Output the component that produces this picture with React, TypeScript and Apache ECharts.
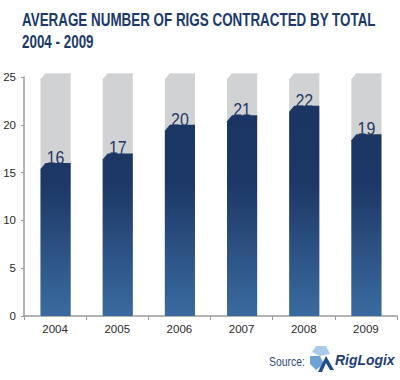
import React, { useEffect, useRef } from "react";
import * as echarts from "echarts";

const years = ["2004", "2005", "2006", "2007", "2008", "2009"];
const rigCounts = [16, 17, 20, 21, 22, 19];
const backgroundMax = [25.4, 25.4, 25.4, 25.4, 25.4, 25.4];
const yTicks = { min: 0, max: 25, interval: 5 };
const titleLines = ["AVERAGE NUMBER OF RIGS CONTRACTED BY TOTAL", "2004 - 2009"];
const sourceLabel = "Source:";
const sourceName = "RigLogix";

const SANS = "'Liberation Sans', Arial, Helvetica, sans-serif";

function measure(text: string, font: string): number {
  const c = document.createElement("canvas").getContext("2d");
  if (!c) return text.length * 10;
  c.font = font;
  return c.measureText(text).width;
}

const TITLE_FONT = `bold 19px ${SANS}`;
const LABEL_FONT = `19px ${SANS}`;
const LABEL_SCALE = 0.84;

function barShape(params: any, api: any, kind: "bg" | "fg") {
  const idx = api.value(0);
  const v = api.value(1);
  const base = api.coord([idx, 0]);
  const top = api.coord([idx, v]);
  const w = api.size([1, 0])[0] * 0.485;
  const cx = base[0] + 0.5;
  const l = cx - w / 2;
  const r = cx + w / 2;
  const cutH = 5;
  const cutV = 6;
  const pts = [
    [l, top[1] + cutV],
    [l + cutH, top[1]],
    [r, top[1]],
    [r, base[1]],
    [l, base[1]],
  ];
  const full = api.coord([idx, 25]);
  let fill: any = "#d1d2d4";
  if (kind === "fg") {
    fill = new echarts.graphic.LinearGradient(
      0, full[1], 0, base[1],
      [
        { offset: 0, color: "#1b3461" },
        { offset: 0.45, color: "#1d3866" },
        { offset: 1, color: "#3a6ba0" },
      ],
      true
    );
  }
  const children: any[] = [
    { type: "polygon", shape: { points: pts }, style: { fill } },
  ];
  if (kind === "fg") {
    children.push({
      type: "text",
      x: cx,
      y: top[1] + 4,
      scaleX: LABEL_SCALE,
      style: {
        text: String(v),
        textAlign: "center",
        textVerticalAlign: "bottom",
        fill: "#1c3764",
        font: LABEL_FONT,
      },
    });
  }
  return { type: "group", children };
}

export default function App() {
  const ref = useRef<HTMLDivElement>(null);
  useEffect(() => {
    if (!ref.current) return;
    const chart = echarts.init(ref.current, undefined, { renderer: "svg" });
    const titleScale = 354 / measure(titleLines[0], TITLE_FONT);
    chart.setOption({
      animation: false,
      backgroundColor: "#ffffff",
      grid: { left: 24, right: 3, top: 77, bottom: 64 },
      xAxis: {
        type: "category",
        data: years,
        boundaryGap: true,
        axisLine: { lineStyle: { color: "#9a9a9a", width: 1.5 } },
        axisTick: { show: true, length: 4, lineStyle: { color: "#9a9a9a" } },
        axisLabel: { color: "#2a2a2a", fontSize: 11.5, fontFamily: SANS, margin: 7 },
      },
      yAxis: {
        type: "value",
        min: yTicks.min,
        max: yTicks.max,
        interval: yTicks.interval,
        splitLine: { show: false },
        axisLine: { show: true, lineStyle: { color: "#9a9a9a", width: 1.5 } },
        axisTick: { show: true, length: 3, lineStyle: { color: "#9a9a9a" } },
        axisLabel: { color: "#2a2a2a", fontSize: 11.5, fontFamily: SANS, margin: 8 },
      },
      series: [
        {
          type: "custom",
          clip: false,
          z: 1,
          renderItem: (p: any, api: any) => barShape(p, api, "bg"),
          data: backgroundMax.map((v, i) => [i, v]),
        },
        {
          type: "custom",
          clip: false,
          z: 2,
          renderItem: (p: any, api: any) => barShape(p, api, "fg"),
          data: rigCounts.map((v, i) => [i, v]),
        },
      ],
      graphic: [
        {
          type: "text",
          x: 22,
          y: 10,
          scaleX: titleScale,
          style: {
            text: titleLines[0],
            fill: "#1b3a6b",
            font: TITLE_FONT,
            textVerticalAlign: "top",
          },
        },
        {
          type: "text",
          x: 22,
          y: 32,
          scaleX: titleScale,
          style: {
            text: titleLines[1],
            fill: "#1b3a6b",
            font: TITLE_FONT,
            textVerticalAlign: "top",
          },
        },
        {
          type: "text",
          x: 269,
          y: 355,
          scaleX: 0.8,
          style: { text: sourceLabel, fill: "#2b4a77", font: `13px ${SANS}`, textVerticalAlign: "top" },
        },
        {
          type: "group",
          x: 310,
          y: 346,
          children: [
            { type: "polygon", shape: { points: [[6, 0], [16, 0], [20, 8], [10, 10], [2, 6]] }, style: { fill: "#a9cbea" } },
            { type: "polygon", shape: { points: [[0, 10], [10, 10], [14, 18], [6, 24], [0, 18]] }, style: { fill: "#6fa3d6" } },
            { type: "polygon", shape: { points: [[8, 26], [16, 10], [24, 24], [20, 24], [16, 17], [12, 26]] }, style: { fill: "#1e4c8c" } },
          ],
        },
        {
          type: "text",
          x: 335,
          y: 352,
          scaleX: 0.93,
          style: {
            text: sourceName,
            fill: "#1e3f78",
            font: `italic bold 15px ${SANS}`,
            textVerticalAlign: "top",
          },
        },
      ],
    });
    return () => chart.dispose();
  }, []);
  return (
    <div
      ref={ref}
      style={{ position: "absolute", left: 0, top: 0, width: 400, height: 380 }}
    />
  );
}
